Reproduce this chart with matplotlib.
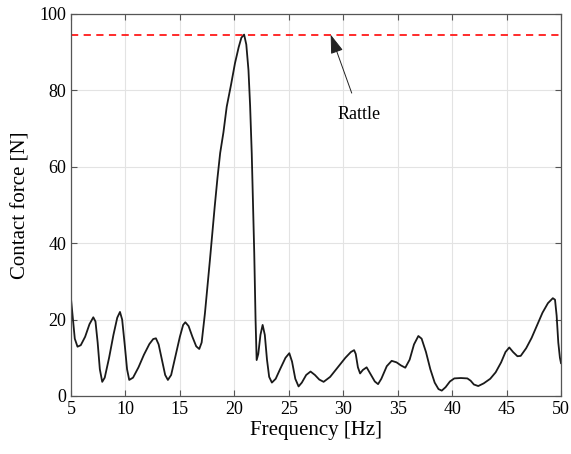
import matplotlib.pyplot as plt

plt.rcParams['font.family'] = ['Liberation Serif', 'DejaVu Serif']

# response curve
freq = [5.0, 5.15, 5.35, 5.6, 5.9, 6.3, 6.7, 7.05, 7.25, 7.45, 7.65, 7.87,
        8.1, 8.5, 8.9, 9.25, 9.5, 9.7, 9.95, 10.15, 10.35, 10.7, 11.2, 11.7,
        12.2, 12.55, 12.8, 13.05, 13.35, 13.65, 13.9, 14.2, 14.6, 15.0, 15.3,
        15.5, 15.8, 16.15, 16.5, 16.78, 17.0, 17.3, 17.76, 18.2, 18.45, 18.7,
        19.0, 19.3, 19.7, 20.06, 20.4, 20.65, 20.9, 21.1, 21.3, 21.45, 21.6,
        21.83, 21.95, 22.05, 22.2, 22.4, 22.6, 22.8, 23.0, 23.2, 23.45, 23.8,
        24.2, 24.7, 25.05, 25.3, 25.6, 25.9, 26.2, 26.6, 27.0, 27.4, 27.8,
        28.2, 28.8, 29.55, 30.2, 30.7, 31.0, 31.15, 31.35, 31.55, 31.8, 32.15,
        32.5, 32.9, 33.2, 33.5, 34.0, 34.45, 34.9, 35.3, 35.7, 36.1, 36.5,
        36.9, 37.2, 37.6, 38.0, 38.4, 38.75, 39.05, 39.4, 39.8, 40.2, 40.8,
        41.4, 41.7, 42.0, 42.4, 42.9, 43.5, 44.0, 44.5, 44.9, 45.25, 45.6,
        46.0, 46.3, 46.8, 47.3, 47.8, 48.3, 48.8, 49.25, 49.45, 49.6, 49.75,
        49.9, 50.0]
force = [25.5, 21, 15, 12.9, 13.3, 15.5, 18.8, 20.6, 19.5, 14, 7, 3.7,
         4.8, 10, 16, 20.5, 22, 20, 13, 7, 4.2, 4.8, 7.5, 10.8,
         13.6, 14.9, 15.1, 13.5, 9.5, 5.5, 4.2, 5.5, 10.5, 15.5, 18.6,
         19.3, 18.3, 15.5, 13, 12.3, 14, 21.6, 35.6, 49.6, 57, 63.6,
         69, 75.7, 81.5, 87.1, 91.3, 93.8, 94.6, 92, 85.3, 76, 63.5,
         37.4, 20, 9.4, 11, 16, 18.6, 16, 9.5, 5, 3.5, 4.5,
         7, 10, 11.2, 9, 4.5, 2.5, 3.5, 5.5, 6.4, 5.5, 4.3,
         3.7, 5, 7.7, 10, 11.5, 12, 11, 7.5, 5.9, 6.8, 7.5,
         5.8, 3.8, 3.1, 4.5, 7.8, 9.2, 8.8, 8, 7.4, 9.5, 13.5,
         15.7, 15, 11.5, 7, 3.5, 1.8, 1.4, 2.3, 3.8, 4.6, 4.7,
         4.6, 4.0, 3.0, 2.6, 3.3, 4.5, 6.2, 8.8, 11.5, 12.7, 11.5,
         10.4, 10.5, 12.5, 15.2, 18.5, 21.8, 24.3, 25.6, 25.2, 21, 14,
         10, 8.6]

rattle_level = 94.6
arrow_tip = (28.85, 94.6)
label_pos = (31.5, 73.6)

fig = plt.figure(figsize=(5.71, 4.54), dpi=100)
ax = fig.add_axes([0.1243, 0.1278, 0.8582, 0.8414])

ax.plot(freq, force, color='#1a1a1a', linewidth=1.3)
ax.axhline(rattle_level, color='#ff1a1a', linestyle=(0, (4, 3)), linewidth=1.3)

ax.annotate('Rattle', xy=arrow_tip, xytext=label_pos, ha='center', va='center',
            fontsize=13,
            arrowprops=dict(arrowstyle='-|>,head_length=0.9,head_width=0.3',
                            color='#222222', linewidth=0.7, shrinkA=8, shrinkB=0))

ax.set_xlim(5, 50)
ax.set_ylim(0, 100)
ax.set_xticks(range(5, 51, 5))
ax.set_yticks(range(0, 101, 20))
ax.grid(True, color='#e3e3e3', linewidth=0.8)
ax.set_axisbelow(True)
ax.tick_params(direction='in', top=True, right=True, labelsize=13,
               color='#555555', length=4)
for s in ax.spines.values():
    s.set_color('#555555')
    s.set_linewidth(0.9)

ax.set_xlabel('Frequency [Hz]', fontsize=15, labelpad=2)
ax.set_ylabel('Contact force [N]', fontsize=15, labelpad=6)

fig.savefig('out.png', dpi=100)
